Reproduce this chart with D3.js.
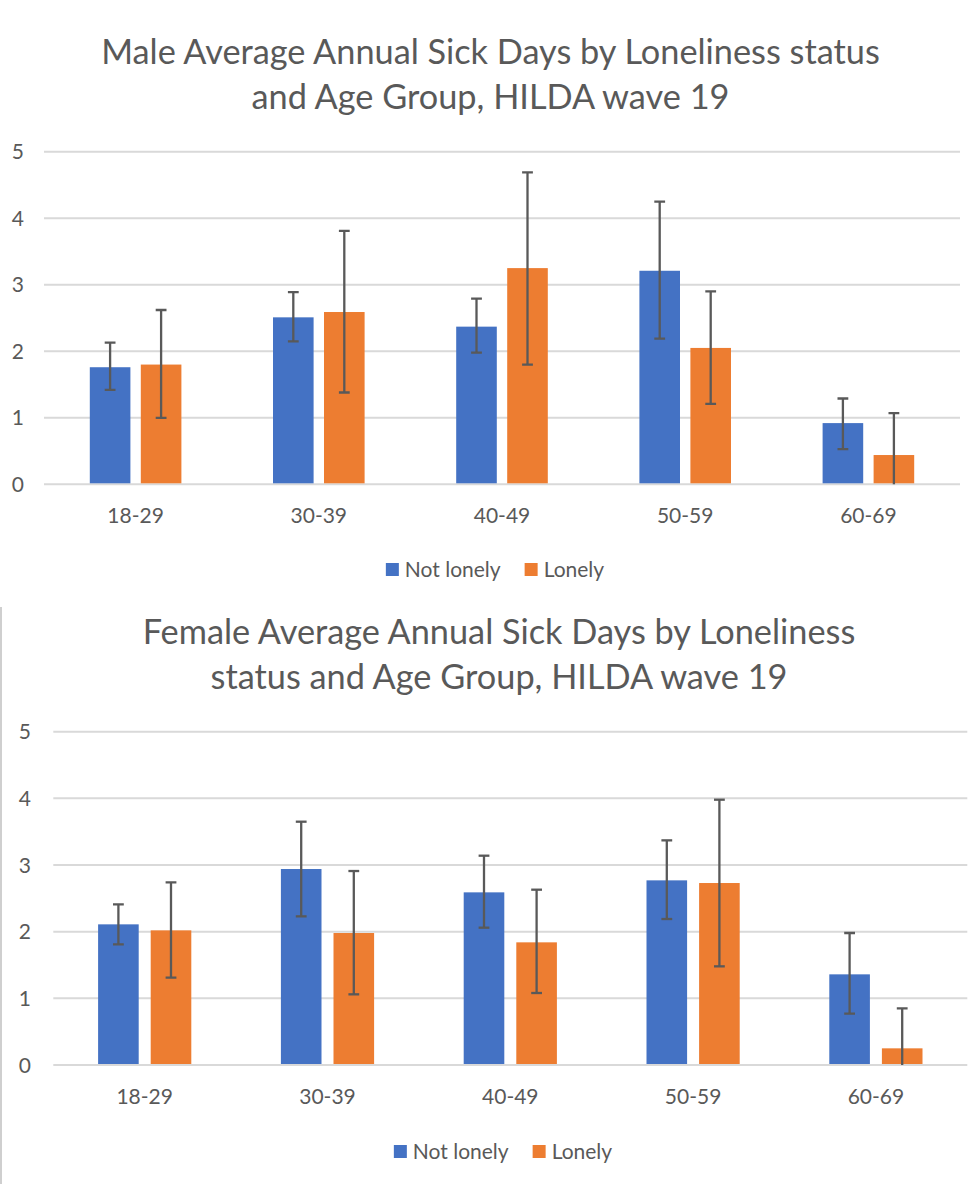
<!DOCTYPE html>
<html>
<head>
<meta charset="utf-8">
<script src="https://cdn.jsdelivr.net/npm/d3@7"></script>
<style>
	body { margin: 0; background: #fff; }
	svg { display: block; font-family: Lato, "Open Sans", sans-serif; }
	.title { fill: #595959; font-size: 34.3px; }
	.tick-label, .cat-label, .legend-label { fill: #595959; font-size: 21px; }
</style>
</head>
<body>
<svg id="plot"></svg>
<script>
const WIDTH = 978;
const HEIGHT = 1184;

const categories = ["18-29", "30-39", "40-49", "50-59", "60-69"];
const seriesNames = ["Not lonely", "Lonely"];
const seriesColors = ["#4472c4", "#ed7d31"];
const yTicks = [0, 1, 2, 3, 4, 5];

// male, wave 19
const maleNotLonely = [1.76, 2.51, 2.37, 3.21, 0.92];
const maleNotLonelyLow = [1.42, 2.15, 1.98, 2.19, 0.53];
const maleNotLonelyHigh = [2.13, 2.89, 2.79, 4.25, 1.29];
const maleLonely = [1.8, 2.59, 3.25, 2.05, 0.44];
const maleLonelyLow = [1.0, 1.38, 1.8, 1.21, -0.19];
const maleLonelyHigh = [2.62, 3.81, 4.69, 2.9, 1.07];

// female, wave 19
const femaleNotLonely = [2.11, 2.94, 2.59, 2.77, 1.36];
const femaleNotLonelyLow = [1.81, 2.23, 2.06, 2.19, 0.77];
const femaleNotLonelyHigh = [2.41, 3.65, 3.14, 3.37, 1.98];
const femaleLonely = [2.02, 1.98, 1.84, 2.73, 0.25];
const femaleLonelyLow = [1.31, 1.06, 1.08, 1.48, -0.35];
const femaleLonelyHigh = [2.74, 2.91, 2.63, 3.98, 0.85];

const maleTitle = [
	"Male Average Annual Sick Days by Loneliness status",
	"and Age Group, HILDA wave 19",
];
const femaleTitle = [
	"Female Average Annual Sick Days by Loneliness",
	"status and Age Group, HILDA wave 19",
];

const BAR_WIDTH = 40.6;
const CAP_HALF = 5.4;

const plot = d3.select("#plot").attr("width", WIDTH).attr("height", HEIGHT);

function drawChart(id, title, values, lows, highs, layout) {
	const g = plot.append("g").attr("id", id);

	const yScale = d3.scaleLinear([0, 5], [layout.yBottom, layout.yTop]);
	const x0 = d3.scaleBand(categories, [layout.left, layout.right]);
	const x1 = d3
		.scaleBand(seriesNames, [0, 2 * BAR_WIDTH + layout.gap])
		.paddingInner(layout.gap / (BAR_WIDTH + layout.gap));
	const groupOffset = (x0.bandwidth() - x1.range()[1]) / 2;

	// title
	g.selectAll(".title")
		.data(title)
		.join("text")
		.attr("class", "title")
		.attr("x", layout.titleX)
		.attr("y", (d, i) => layout.titleY[i])
		.attr("text-anchor", "middle")
		.text(d => d);

	// gridlines + y labels
	g.selectAll(".grid")
		.data(yTicks)
		.join("line")
		.attr("class", "grid")
		.attr("x1", layout.left)
		.attr("x2", layout.right)
		.attr("y1", d => yScale(d))
		.attr("y2", d => yScale(d))
		.attr("stroke", "#d9d9d9")
		.attr("stroke-width", 2);

	g.selectAll(".tick-label")
		.data(yTicks)
		.join("text")
		.attr("class", "tick-label")
		.attr("x", layout.tickX)
		.attr("y", d => yScale(d))
		.attr("dy", "0.36em")
		.attr("text-anchor", "end")
		.text(d => d);

	g.selectAll(".cat-label")
		.data(categories)
		.join("text")
		.attr("class", "cat-label")
		.attr("x", d => x0(d) + x0.bandwidth() / 2)
		.attr("y", layout.xLabelY)
		.attr("dy", "0.36em")
		.attr("text-anchor", "middle")
		.text(d => d);

	const clipId = `${id}-clip`;
	g.append("clipPath")
		.attr("id", clipId)
		.append("rect")
		.attr("x", layout.left)
		.attr("y", yScale(5) - 20)
		.attr("width", layout.right - layout.left)
		.attr("height", yScale(0) - yScale(5) + 20);

	const barData = [];
	seriesNames.forEach((s, si) => {
		categories.forEach((c, ci) => {
			barData.push({
				series: s,
				color: seriesColors[si],
				category: c,
				value: values[si][ci],
				low: lows[si][ci],
				high: highs[si][ci],
			});
		});
	});

	const bars = g.append("g").attr("clip-path", `url(#${clipId})`);

	bars.selectAll(".bar")
		.data(barData)
		.join("rect")
		.attr("class", "bar")
		.attr("x", d => x0(d.category) + groupOffset + x1(d.series))
		.attr("width", x1.bandwidth())
		.attr("y", d => yScale(d.value))
		.attr("height", d => yScale(0) - yScale(d.value) - 1)
		.attr("fill", d => d.color);

	const errs = bars
		.selectAll(".err")
		.data(barData)
		.join("g")
		.attr("class", "err")
		.attr("stroke", "#595959")
		.attr("stroke-width", 2.3)
		.attr(
			"transform",
			d =>
				`translate(${x0(d.category) + groupOffset + x1(d.series) + x1.bandwidth() / 2},0)`,
		);
	errs.append("line")
		.attr("y1", d => yScale(d.low))
		.attr("y2", d => yScale(d.high));
	errs.append("line")
		.attr("x1", -CAP_HALF)
		.attr("x2", CAP_HALF)
		.attr("y1", d => yScale(d.high))
		.attr("y2", d => yScale(d.high));
	errs.append("line")
		.attr("x1", -CAP_HALF)
		.attr("x2", CAP_HALF)
		.attr("y1", d => yScale(d.low))
		.attr("y2", d => yScale(d.low));

	// legend, centred on layout.legendX
	const legend = g.append("g");
	const items = legend
		.selectAll(".legend-item")
		.data(seriesNames)
		.join("g")
		.attr("class", "legend-item");
	items.append("rect")
		.attr("width", 13)
		.attr("height", 13)
		.attr("y", layout.legendY - 6.5)
		.attr("fill", (d, i) => seriesColors[i]);
	items.append("text")
		.attr("class", "legend-label")
		.attr("x", 19)
		.attr("y", layout.legendY)
		.attr("dy", "0.36em")
		.text(d => d);
	let cursor = 0;
	items.each(function () {
		d3.select(this).attr("transform", `translate(${cursor},0)`);
		cursor += 19 + this.querySelector("text").getComputedTextLength() + 24;
	});
	const total = cursor - 24;
	legend.attr("transform", `translate(${layout.legendX - total / 2},0)`);
}

drawChart(
	"male",
	maleTitle,
	[maleNotLonely, maleLonely],
	[maleNotLonelyLow, maleLonelyLow],
	[maleNotLonelyHigh, maleLonelyHigh],
	{
		titleX: 490.5,
		titleY: [63.5, 108.5],
		left: 44,
		right: 960,
		yTop: 151.7,
		yBottom: 484.3,
		tickX: 24,
		xLabelY: 515,
		legendY: 569.5,
		legendX: 495,
		gap: 10.4,
	},
);

drawChart(
	"female",
	femaleTitle,
	[femaleNotLonely, femaleLonely],
	[femaleNotLonelyLow, femaleLonelyLow],
	[femaleNotLonelyHigh, femaleLonelyHigh],
	{
		titleX: 499,
		titleY: [643.5, 688.5],
		left: 53.3,
		right: 967.3,
		yTop: 731.7,
		yBottom: 1065,
		tickX: 31,
		xLabelY: 1096,
		legendY: 1151.5,
		legendX: 503,
		gap: 12,
	},
);

// chart border of the lower chart (left edge only is visible)
plot.append("line")
	.attr("x1", 1)
	.attr("x2", 1)
	.attr("y1", 607)
	.attr("y2", HEIGHT)
	.attr("stroke", "#bfbfbf")
	.attr("stroke-width", 1.5);
</script>
</body>
</html>
